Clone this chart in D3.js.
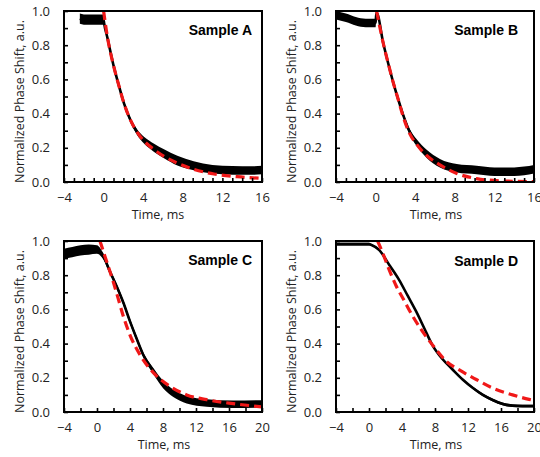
<!DOCTYPE html>
<html><head><meta charset="utf-8">
<script src="https://cdn.jsdelivr.net/npm/d3@7"></script>
<style>
html,body{margin:0;padding:0;background:#fff;}
svg{display:block;}
</style></head>
<body>
<script>
// ---------- DATA ----------
const panelNames = ["Sample A", "Sample B", "Sample C", "Sample D"];
const xDomains = [[-4, 16], [-4, 16], [-4, 20], [-4, 20]];
const xTickLabelsAB = [-4, 0, 4, 8, 12, 16];
const xTickLabelsCD = [-4, 0, 4, 8, 12, 16, 20];
const yTickLabels = [0, 0.2, 0.4, 0.6, 0.8, 1.0];

// Sample A
const blackA_t = [-2.4, -2, -1, -0.5, 0, 0.05, 0.4, 1.05, 1.56, 2.06, 2.73, 3.4, 4.08, 5.1, 6.1, 7.45, 9.1, 11, 13, 15, 16];
const blackA_v = [0.955, 0.95, 0.95, 0.95, 0.95, 0.93, 0.84, 0.67, 0.56, 0.46, 0.36, 0.29, 0.245, 0.2, 0.165, 0.125, 0.095, 0.075, 0.068, 0.067, 0.07];
const blackA_n = [0.03, 0.03, 0.03, 0.03, 0.03, 0.012, 0.012, 0.012, 0.012, 0.012, 0.014, 0.017, 0.02, 0.024, 0.026, 0.028, 0.026, 0.025, 0.025, 0.025, 0.025];
const redA_t = [0, 0.38, 1.05, 1.56, 2.06, 2.73, 3.4, 4.08, 5.1, 6.1, 7.45, 9.13, 11.15, 13.5, 16];
const redA_v = [1.0, 0.85, 0.67, 0.56, 0.46, 0.36, 0.29, 0.24, 0.19, 0.15, 0.11, 0.074, 0.047, 0.031, 0.021];

// Sample B
const blackB_t = [-4, -3, -2, -1, 0, 0.05, 0.1, 0.78, 1.29, 1.79, 2.3, 2.8, 3.47, 4.15, 5.16, 6.5, 8.2, 10.2, 12, 14, 15, 16];
const blackB_v = [0.975, 0.96, 0.94, 0.93, 0.93, 0.97, 0.99, 0.81, 0.69, 0.58, 0.48, 0.39, 0.29, 0.23, 0.165, 0.11, 0.08, 0.07, 0.06, 0.06, 0.065, 0.075];
const blackB_n = [0.025, 0.025, 0.025, 0.025, 0.025, 0.012, 0.012, 0.012, 0.012, 0.012, 0.012, 0.014, 0.017, 0.02, 0.024, 0.025, 0.025, 0.025, 0.025, 0.025, 0.025, 0.025];
const redB_t = [0.1, 0.78, 1.29, 1.79, 2.3, 2.8, 3.47, 4.15, 5.16, 6.5, 8.2, 10.2, 12.9, 16];
const redB_v = [1.0, 0.81, 0.69, 0.58, 0.48, 0.38, 0.28, 0.22, 0.155, 0.10, 0.05, 0.02, 0.006, 0.002];

// Sample C
const blackC_t = [-4, -3, -2, -1, 0, 0.77, 1.58, 2.38, 3.19, 4.0, 4.8, 5.6, 6.83, 8.04, 9.25, 10.87, 13.3, 16.5, 20];
const blackC_v = [0.925, 0.935, 0.945, 0.95, 0.95, 0.91, 0.82, 0.735, 0.64, 0.53, 0.43, 0.335, 0.24, 0.16, 0.11, 0.072, 0.053, 0.045, 0.047];
const blackC_n = [0.03, 0.03, 0.03, 0.03, 0.025, 0.018, 0.015, 0.015, 0.015, 0.015, 0.015, 0.015, 0.018, 0.022, 0.022, 0.022, 0.022, 0.022, 0.022];
const redC_t = [0.36, 1.17, 1.98, 2.59, 3.19, 4.0, 5.2, 6.83, 8.85, 10.87, 13.3, 16.5, 20];
const redC_v = [1.0, 0.88, 0.76, 0.66, 0.56, 0.45, 0.335, 0.23, 0.15, 0.10, 0.072, 0.049, 0.03];

// Sample D
const blackD_t = [-4, -2, 0, 0.24, 1.25, 2.46, 3.68, 4.69, 5.7, 6.7, 7.7, 8.9, 10.1, 11.35, 12.6, 13.8, 15.0, 16.2, 17.4, 18.6, 20];
const blackD_v = [0.982, 0.982, 0.982, 0.978, 0.947, 0.86, 0.77, 0.68, 0.59, 0.49, 0.39, 0.31, 0.25, 0.19, 0.14, 0.10, 0.07, 0.047, 0.037, 0.035, 0.035];
const blackD_n = [0.008, 0.008, 0.008, 0.006, 0.006, 0.006, 0.006, 0.006, 0.006, 0.006, 0.006, 0.006, 0.006, 0.006, 0.007, 0.008, 0.008, 0.008, 0.008, 0.008, 0.008];
const redD_t = [1.05, 1.66, 2.46, 3.27, 4.28, 5.3, 6.5, 7.9, 9.3, 11.15, 13, 15, 17.4, 19.4, 20];
const redD_v = [1.0, 0.93, 0.83, 0.74, 0.65, 0.56, 0.47, 0.38, 0.30, 0.24, 0.19, 0.14, 0.10, 0.074, 0.068];

// ---------- LAYOUT ----------
const W = 540, H = 457;
const frames = [
  {x0: 64, x1: 262, y0: 11, y1: 182, xStep: 1, labels: xTickLabelsAB, tx: 158, nameX: 252, nameY: 35},
  {x0: 336, x1: 534, y0: 11, y1: 182, xStep: 1, labels: xTickLabelsAB, tx: 436, nameX: 518, nameY: 35},
  {x0: 64, x1: 262, y0: 241, y1: 412, xStep: 2, labels: xTickLabelsCD, tx: 164, nameX: 252, nameY: 265},
  {x0: 336, x1: 534, y0: 241, y1: 412, xStep: 2, labels: xTickLabelsCD, tx: 436, nameX: 518, nameY: 266}
];
const blacks = [
  [blackA_t, blackA_v, blackA_n], [blackB_t, blackB_v, blackB_n],
  [blackC_t, blackC_v, blackC_n], [blackD_t, blackD_v, blackD_n]
];
const reds = [[redA_t, redA_v], [redB_t, redB_v], [redC_t, redC_v], [redD_t, redD_v]];

const svg = d3.select("body").append("svg").attr("width", W).attr("height", H);
const TXT = "#222";
const font = "'Open Sans', 'DejaVu Sans', sans-serif";

frames.forEach((f, i) => {
  const x = d3.scaleLinear().domain(xDomains[i]).range([f.x0, f.x1]);
  const y = d3.scaleLinear().domain([0, 1]).range([f.y1, f.y0]);
  const g = svg.append("g");

  const clipId = "clip" + i;
  svg.append("clipPath").attr("id", clipId).append("rect")
    .attr("x", f.x0).attr("y", f.y0).attr("width", f.x1 - f.x0).attr("height", f.y1 - f.y0);

  const [bt, bv, bn] = blacks[i];
  const bdata = bt.map((t, k) => ({t, v: bv[k], n: bn[k]}));
  const area = d3.area().x(d => x(d.t)).y0(d => y(d.v - d.n)).y1(d => y(d.v + d.n)).curve(d3.curveMonotoneX);
  const line = d3.line().x(d => x(d.t)).y(d => y(d.v)).curve(d3.curveMonotoneX);
  const pg = g.append("g").attr("clip-path", `url(#${clipId})`);
  pg.append("path").datum(bdata).attr("d", area).attr("fill", "#000");
  pg.append("path").datum(bdata).attr("d", line).attr("fill", "none").attr("stroke", "#000").attr("stroke-width", 2.6);

  const [rt, rv] = reds[i];
  const rdata = rt.map((t, k) => ({t, v: rv[k]}));
  pg.append("path").datum(rdata).attr("d", line).attr("fill", "none")
    .attr("stroke", "#f01818").attr("stroke-width", 3.2).attr("stroke-dasharray", "9,5");

  // inward ticks
  const xt = d3.range(xDomains[i][0], xDomains[i][1] + 0.001, f.xStep);
  g.append("g").attr("transform", `translate(0,${f.y1})`)
    .call(d3.axisBottom(x).tickValues(xt).tickSize(-4).tickFormat(""))
    .call(a => a.select(".domain").remove())
    .call(a => a.selectAll("line").attr("stroke", "#000").attr("stroke-width", 1.6));
  const yt = d3.range(0, 1.0001, 0.1);
  g.append("g").attr("transform", `translate(${f.x0},0)`)
    .call(d3.axisLeft(y).tickValues(yt).tickSize(-4).tickFormat(""))
    .call(a => a.select(".domain").remove())
    .call(a => a.selectAll("line").attr("stroke", "#000").attr("stroke-width", 1.6));

  // tick labels
  g.append("g").attr("transform", `translate(0,${f.y1})`)
    .call(d3.axisBottom(x).tickValues(f.labels).tickSize(0).tickPadding(11).tickFormat(d3.format("d")))
    .call(a => a.select(".domain").remove())
    .call(a => a.selectAll("text").attr("font-family", font).attr("font-size", 13).attr("fill", TXT));
  g.append("g").attr("transform", `translate(${f.x0},0)`)
    .call(d3.axisLeft(y).tickValues(yTickLabels).tickSize(0).tickPadding(14).tickFormat(d3.format(".1f")))
    .call(a => a.select(".domain").remove())
    .call(a => a.selectAll("text").attr("font-family", font).attr("font-size", 13).attr("fill", TXT));

  // frame
  g.append("rect").attr("x", f.x0).attr("y", f.y0).attr("width", f.x1 - f.x0).attr("height", f.y1 - f.y0)
    .attr("fill", "none").attr("stroke", "#000").attr("stroke-width", 2);

  // axis titles
  g.append("text").attr("x", f.tx).attr("y", f.y1 + 37).attr("text-anchor", "middle")
    .attr("font-family", font).attr("font-size", 12.5).attr("fill", TXT).text("Time, ms");
  const cy = (f.y0 + f.y1) / 2 + 5;
  g.append("text").attr("transform", `translate(${f.x0 - 40},${cy}) rotate(-90)`)
    .attr("text-anchor", "middle").attr("font-family", font).attr("font-size", 12.5).attr("fill", TXT)
    .text("Normalized Phase Shift, a.u.");

  // sample name
  g.append("text").attr("x", f.nameX).attr("y", f.nameY).attr("text-anchor", "end")
    .attr("font-family", "'Liberation Sans', Arial, sans-serif").attr("font-weight", "bold")
    .attr("font-size", 14).attr("fill", "#000").text(panelNames[i]);
});
</script>
</body></html>
